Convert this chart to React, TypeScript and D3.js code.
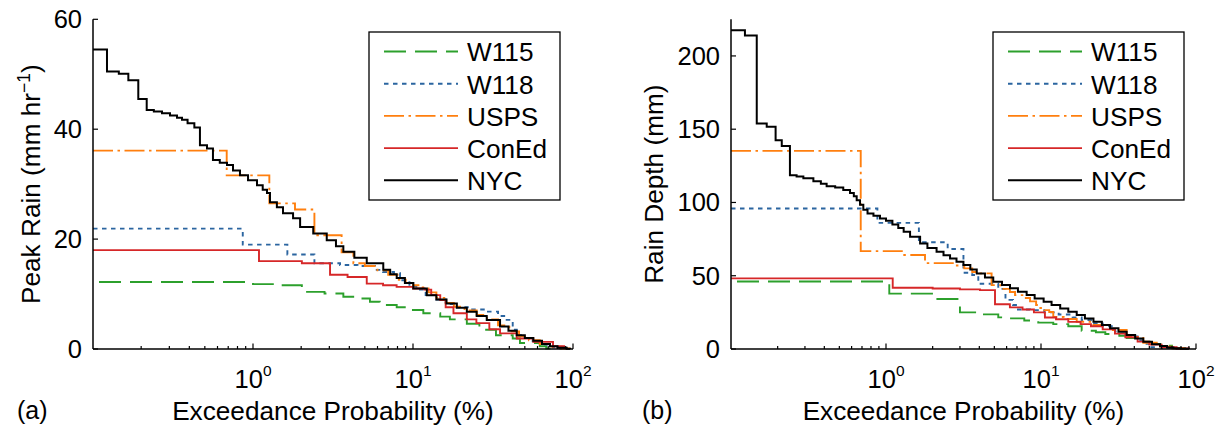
import React from 'react';
import * as d3 from 'd3';

type Pt = [number, number];

const seriesNames = ['W115', 'W118', 'USPS', 'ConEd', 'NYC'];
const seriesColors = ['#2ca02c', '#2b65a0', '#ff7f0e', '#d62728', '#000000'];
const seriesDash = ['22,9', '4.5,4.5', '20,4.5,2.5,4.5', '', ''];
const seriesWidth = [1.9, 1.9, 1.9, 1.9, 2.0];

const xTickLabels = ['0', '1', '2']; // exponents of 10
const peakTicks = [0, 20, 40, 60];
const depthTicks = [0, 50, 100, 150, 200];

// (a) Peak rain (mm/hr) vs exceedance probability (%)
const peakW115: Pt[] = [[0.1, 12.2], [1.0, 11.8], [1.5, 11.6], [2.02, 10.4], [2.8, 10.1], [3.67, 9.5], [4.5, 9.2], [5.38, 8.6], [6.2, 8.0], [7.91, 7.6], [9.6, 7.1], [11.6, 6.5], [14.8, 5.9], [17, 5.4], [21.7, 4.6], [26, 3.5], [33, 2.5], [42, 1.9], [46.6, 1.1], [62, 0.5], [68, 0.1], [85, 0]];
const peakW118: Pt[] = [[0.1, 21.9], [0.863, 19.0], [1.64, 17.2], [2.42, 15.6], [3.5, 15.3], [4.5, 15.1], [5.79, 14.4], [6.5, 14.0], [7.6, 13.8], [8.3, 12.5], [9.5, 11.4], [10.5, 10.8], [12, 9.8], [14, 9.0], [16, 8.2], [17.9, 7.6], [22, 7.2], [28.9, 6.8], [34, 6.0], [38.5, 5.3], [42, 3.5], [44.5, 2.5], [50, 2.0], [56, 1.4], [65, 0.8], [75, 0.3], [88, 0]];
const peakUSPS: Pt[] = [[0.1, 36.1], [0.685, 31.6], [1.265, 26.5], [1.83, 25.4], [2.42, 20.7], [3.58, 17.6], [4.24, 15.6], [5.0, 15.1], [6.0, 14.3], [7.0, 13.5], [8.0, 12.6], [9.0, 12.0], [10.0, 11.6], [11.5, 11.2], [12.5, 10.3], [14, 9.3], [16, 8.4], [18, 7.7], [21, 7.0], [25, 6.2], [29, 5.4], [34, 4.3], [40, 3.2], [46, 2.3], [53, 1.6], [62, 0.9], [72, 0.4], [85, 0.1], [95, 0]];
const peakConEd: Pt[] = [[0.1, 18.0], [1.09, 16.0], [2.02, 15.6], [3.03, 13.5], [3.9, 13.1], [5.14, 11.9], [6.5, 11.6], [7.9, 11.3], [10, 11.0], [11.8, 10.8], [13, 9.8], [14.8, 8.9], [16, 7.6], [17.9, 6.5], [21.7, 5.4], [24.9, 4.7], [30, 3.6], [35, 2.85], [44.5, 1.9], [56.5, 1.3], [75, 0.5], [88, 0]];
const peakNYC: Pt[] = [[0.1, 54.5], [0.1223, 50.5], [0.145, 50.1], [0.1663, 48.9], [0.1919, 45.5], [0.2166, 43.5], [0.24, 43.2], [0.27, 42.9], [0.303, 42.5], [0.335, 42.1], [0.36, 41.7], [0.39, 41.1], [0.43, 40.3], [0.466, 37.1], [0.516, 36.5], [0.562, 34.4], [0.62, 33.9], [0.688, 33.5], [0.75, 32.5], [0.829, 31.6], [0.931, 30.7], [1.059, 29.8], [1.15, 29.0], [1.223, 28.4], [1.277, 26.7], [1.41, 25.8], [1.54, 24.7], [1.78, 23.8], [1.97, 22.2], [2.38, 21.0], [2.89, 19.8], [3.3, 18.7], [3.67, 17.7], [4.3, 16.6], [5.14, 15.6], [6.52, 14.4], [7.2, 13.6], [7.91, 12.9], [8.9, 12.0], [10.05, 11.0], [12.2, 9.8], [14, 9.0], [16.2, 8.3], [18.8, 7.5], [21.7, 6.8], [25, 6.0], [28.9, 5.3], [35.0, 4.1], [39.5, 3.3], [44.5, 2.5], [50, 2.0], [56.5, 1.5], [64, 0.9], [71.8, 0.5], [80, 0.25], [91.3, 0.05], [96, 0]];

// (b) Rain depth (mm) vs exceedance probability (%)
const depthW115: Pt[] = [[0.1, 46.1], [1.05, 37.8], [1.98, 34.1], [3.0, 25.0], [4.2, 23.6], [5.3, 21.6], [6.3, 20.9], [7.8, 19.5], [9.6, 18.0], [12, 17.0], [15, 15.5], [18.3, 12.5], [22.6, 11.4], [26, 10.2], [32, 9.0], [35.7, 7.5], [45.7, 5.0], [50, 3.4], [61, 2.3], [70, 0.8], [85, 0]];
const depthW118: Pt[] = [[0.1, 95.9], [0.88, 86.1], [1.63, 72.8], [2.5, 68.2], [3.16, 52.0], [3.6, 50.5], [3.94, 44.5], [5.3, 41.0], [5.9, 33.5], [6.6, 30.0], [7.1, 27.0], [8.5, 26.5], [10.5, 25.0], [13, 23.5], [16, 21.5], [18.3, 19.8], [21, 17.5], [25, 15.5], [30, 12], [36, 8.5], [42, 6.0], [48, 3.6], [50, 1.3], [60, 0.6], [75, 0.2], [88, 0]];
const depthUSPS: Pt[] = [[0.1, 135.2], [0.687, 66.8], [1.29, 64.1], [1.785, 58.6], [2.79, 57.0], [3.2, 55.0], [3.6, 52.5], [3.85, 51.6], [4.8, 43.6], [5.5, 41], [6.3, 38.9], [6.8, 36.8], [7.8, 34.8], [8.5, 32.5], [9.3, 30.0], [9.6, 28.0], [10.5, 26.5], [11.3, 25.2], [12, 21.8], [14, 20.5], [17, 18.6], [21.8, 16.4], [27.9, 13.0], [35.7, 8.2], [45.7, 4.3], [58.6, 1.6], [70, 0.5], [85, 0]];
const depthConEd: Pt[] = [[0.1, 48.2], [1.105, 41.8], [2.0, 41.3], [3.0, 40.7], [4.04, 40.2], [5.05, 30.5], [6.3, 28.4], [7.6, 27.0], [9.0, 25.0], [10.6, 21.5], [12.5, 20.3], [15, 18.5], [18, 17.0], [21, 15.5], [25, 13.4], [30, 10.5], [35, 8.0], [42, 5.0], [50, 3.0], [60, 1.2], [75, 0.3], [90, 0]];
const depthNYC: Pt[] = [[0.1, 217.5], [0.123, 214], [0.1466, 153.9], [0.170, 151.6], [0.194, 142.5], [0.2126, 138.6], [0.240, 118.6], [0.265, 117.8], [0.293, 116.5], [0.340, 114.5], [0.38, 112.8], [0.414, 111], [0.47, 110.2], [0.530, 108.5], [0.586, 106.5], [0.62, 104.2], [0.647, 101.5], [0.68, 98.5], [0.714, 95], [0.76, 92.5], [0.83, 91], [0.915, 89], [1.0, 87.5], [1.1, 85], [1.2, 82.5], [1.3, 80], [1.43, 76.6], [1.66, 72.0], [1.85, 69], [2.12, 66.4], [2.35, 64], [2.59, 61.8], [2.85, 59.5], [3.16, 57.3], [3.5, 54.3], [3.85, 51.6], [4.35, 48.8], [4.92, 45.9], [5.6, 43.6], [6.31, 41.4], [7.1, 39], [8.08, 36.8], [9.1, 34.5], [10.4, 32.3], [11.7, 30], [13.3, 27.7], [15, 25.4], [17.0, 23.2], [19.2, 20.9], [21.8, 18.6], [24.7, 16.4], [27.9, 14.1], [31.6, 11.8], [35.7, 9.5], [40.5, 7.2], [45.7, 5.0], [52, 3.3], [58.6, 2.0], [65, 1.1], [71.5, 0.5], [80, 0.15], [90, 0]];

const peakSeries = [peakW115, peakW118, peakUSPS, peakConEd, peakNYC];
const depthSeries = [depthW115, depthW118, depthUSPS, depthConEd, depthNYC];

const FONT = '"Liberation Sans", Arial, Helvetica, sans-serif';

interface PanelProps {
  x0: number; x1: number; yTop: number; yBottom: number;
  yMax: number; yTicks: number[]; series: Pt[][];
  ylabel: React.ReactNode; ylabelX: number; tag: string; tagX: number;
  legendX: number;
}

function Panel(props: PanelProps) {
  const { x0, x1, yTop, yBottom, yMax, yTicks, series, ylabel, ylabelX, tag, tagX, legendX } = props;
  const x = d3.scaleLog().domain([0.1, 100]).range([x0, x1]);
  const y = d3.scaleLinear().domain([0, yMax]).range([yBottom, yTop]);
  const line = d3.line<Pt>().x(d => x(d[0])).y(d => y(d[1])).curve(d3.curveStepAfter);
  const xt = x.ticks();
  const isMajor = (t: number) => Math.abs(Math.log10(t) - Math.round(Math.log10(t))) < 1e-6;
  const legW = 191, legH = 168, legY = 32;
  const rowY = (i: number) => legY + 19.5 + i * 32.2;
  return (
    <g>
      {series.map((s, i) => (
        <path key={i} d={line(s) || ''} fill="none" stroke={seriesColors[i]}
          strokeWidth={seriesWidth[i]} strokeDasharray={seriesDash[i] || undefined}
          strokeDashoffset={i === 0 ? -6 : 0} />
      ))}
      {/* axes */}
      <line x1={x0} x2={x1} y1={yBottom} y2={yBottom} stroke="#000" strokeWidth={1.5} />
      <line x1={x0} x2={x0} y1={yTop} y2={yBottom} stroke="#000" strokeWidth={1.5} />
      {xt.filter(t => t > 0.1).map((t, i) => (
        <line key={i} x1={x(t)} x2={x(t)} y1={yBottom} y2={yBottom - (isMajor(t) ? 5.5 : 3)} stroke="#000" strokeWidth={1.2} />
      ))}
      {xTickLabels.map((e, i) => {
        const xv = x(Math.pow(10, +e));
        return (
          <text key={i} x={xv} y={388} textAnchor="middle" fontSize={25.5} fontFamily={FONT} fill="#000">
            <tspan>10</tspan><tspan dy={-12} fontSize={15.5}>{e}</tspan>
          </text>
        );
      })}
      {yTicks.map((t, i) => (
        <g key={i}>
          <line x1={x0} x2={x0 + 5} y1={y(t)} y2={y(t)} stroke="#000" strokeWidth={1.2} />
          <text x={x0 - 11} y={y(t) + 9} textAnchor="end" fontSize={25.5} fontFamily={FONT} fill="#000">{t}</text>
        </g>
      ))}
      <text x={(x0 + x1) / 2} y={420} textAnchor="middle" fontSize={26.2} fontFamily={FONT} fill="#000">Exceedance Probability (%)</text>
      <text transform={`translate(${ylabelX},${(yTop + yBottom) / 2}) rotate(-90)`} textAnchor="middle" fontSize={26.2} fontFamily={FONT} fill="#000">{ylabel}</text>
      <text x={tagX} y={419} fontSize={25} fontFamily={FONT} fill="#000">{tag}</text>
      {/* legend */}
      <rect x={legendX} y={legY} width={legW} height={legH} fill="#fff" stroke="#000" strokeWidth={1.3} />
      {seriesNames.map((n, i) => (
        <g key={n}>
          <line x1={legendX + 15} x2={legendX + 89} y1={rowY(i)} y2={rowY(i)} stroke={seriesColors[i]}
            strokeWidth={seriesWidth[i]} strokeDasharray={seriesDash[i] || undefined} />
          <text x={legendX + 98} y={rowY(i) + 9.8} fontSize={26.2} fontFamily={FONT} fill="#000">{n}</text>
        </g>
      ))}
    </g>
  );
}

export default function App() {
  return (
    <svg width={1220} height={427} viewBox="0 0 1220 427"
      style={{ position: 'absolute', left: 0, top: 0, display: 'block', background: '#fff' }}>
      <rect x={0} y={0} width={1220} height={427} fill="#fff" />
      <Panel x0={93} x1={573} yTop={19.3} yBottom={349} yMax={60} yTicks={peakTicks}
        series={peakSeries}
        ylabel={<><tspan>Peak Rain (mm hr</tspan><tspan dy={-10} fontSize={17.5}>−1</tspan><tspan dy={10}>)</tspan></>}
        ylabelX={40} tag="(a)" tagX={17} legendX={369} />
      <Panel x0={731} x1={1196} yTop={19.3} yBottom={349} yMax={225} yTicks={depthTicks}
        series={depthSeries}
        ylabel={<tspan>Rain Depth (mm)</tspan>}
        ylabelX={663} tag="(b)" tagX={642} legendX={993} />
    </svg>
  );
}
